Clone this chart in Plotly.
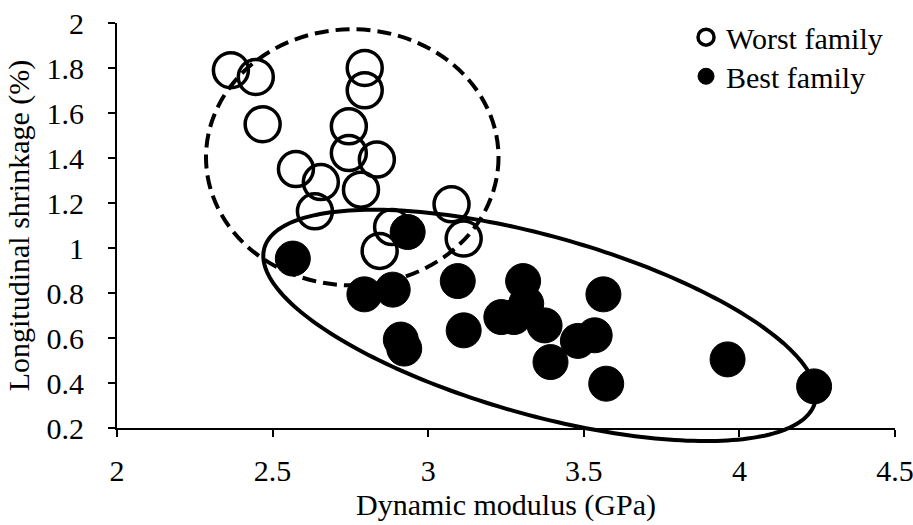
import numpy as np
import plotly.graph_objects as go

# ---- data ----
worst_x = [2.366, 2.446, 2.468, 2.796, 2.796, 2.745, 2.745, 2.835, 2.575, 2.655,
           2.784, 2.636, 3.075, 3.114, 2.884, 2.844]
worst_y = [1.790, 1.760, 1.550, 1.800, 1.701, 1.541, 1.422, 1.393, 1.351, 1.293,
           1.259, 1.163, 1.194, 1.042, 1.093, 0.987]

best_x = [2.565, 2.934, 2.795, 2.886, 3.095, 3.305, 3.563, 2.912, 2.923, 3.114,
          3.235, 3.275, 3.315, 3.374, 3.481, 3.535, 3.393, 3.572, 3.962, 4.240]
best_y = [0.953, 1.071, 0.794, 0.815, 0.853, 0.853, 0.794, 0.593, 0.553, 0.634,
          0.693, 0.693, 0.753, 0.656, 0.587, 0.612, 0.493, 0.397, 0.505, 0.385]

x_range = [2, 4.5]
y_range = [0.2, 2]
x_ticks = [2, 2.5, 3, 3.5, 4, 4.5]
x_tick_labels = ["2", "2.5", "3", "3.5", "4", "4.5"]
y_ticks = [0.2, 0.4, 0.6, 0.8, 1.0, 1.2, 1.4, 1.6, 1.8, 2.0]
y_tick_labels = ["0.2", "0.4", "0.6", "0.8", "1", "1.2", "1.4", "1.6", "1.8", "2"]

# ---- grouping ellipses (annotation shapes, in data units) ----
worst_ell_center = (2.756, 1.403)
worst_ell_radii = (0.470, 0.569)

best_ell_center = (3.358, 0.656)
best_ell_vec_a = (0.8845, -0.3436)
best_ell_vec_b = (-0.0778, -0.3822)

FONT = "Liberation Serif"
FS = 30

fig = go.Figure()

fig.add_trace(go.Scatter(
    x=worst_x, y=worst_y, mode="markers", name="Worst family",
    marker=dict(symbol="circle-open", size=35, color="black",
                line=dict(width=3.5, color="black")),
    cliponaxis=False, legend="legend",
))
fig.add_trace(go.Scatter(
    x=best_x, y=best_y, mode="markers", name="Best family",
    marker=dict(symbol="circle", size=35, color="black",
                line=dict(width=1, color="black")),
    cliponaxis=False, legend="legend2",
))

# dashed ellipse
cx, cy = worst_ell_center
rx, ry = worst_ell_radii
fig.add_shape(type="circle", xref="x", yref="y",
              x0=cx - rx, x1=cx + rx, y0=cy - ry, y1=cy + ry,
              line=dict(color="black", width=4, dash="14px,7px"),
              layer="above")

# solid rotated ellipse (placed in paper units so it is not clipped at the axis)
t = np.linspace(0, 2 * np.pi, 240)
ex = best_ell_center[0] + best_ell_vec_a[0] * np.cos(t) + best_ell_vec_b[0] * np.sin(t)
ey = best_ell_center[1] + best_ell_vec_a[1] * np.cos(t) + best_ell_vec_b[1] * np.sin(t)
px = (ex - x_range[0]) / (x_range[1] - x_range[0])
py = (ey - y_range[0]) / (y_range[1] - y_range[0])
path = "M " + " L ".join(f"{a:.5f},{b:.5f}" for a, b in zip(px, py)) + " Z"
fig.add_shape(type="path", xref="paper", yref="paper", path=path,
              line=dict(color="black", width=4), layer="above")

leg_common = dict(xref="paper", yref="paper", xanchor="left", yanchor="middle",
                  font=dict(family=FONT, size=FS, color="black"),
                  bgcolor="rgba(0,0,0,0)", itemwidth=30)

fig.update_layout(
    width=913, height=525,
    margin=dict(l=117, r=18, t=23, b=97, autoexpand=False),
    plot_bgcolor="white", paper_bgcolor="white",
    font=dict(family=FONT, size=FS, color="black"),
    showlegend=True,
    legend=dict(x=0.7314, y=0.965, **leg_common),
    legend2=dict(x=0.7314, y=0.8685, **leg_common),
    xaxis=dict(range=x_range, tickvals=x_ticks, ticktext=x_tick_labels,
               showgrid=False, zeroline=False, showline=True,
               linecolor="black", linewidth=2, ticks="outside", ticklen=7,
               tickwidth=2, tickcolor="black", ticklabelstandoff=8,
               ticklabeloverflow="allow",
               title=dict(text="Dynamic modulus (GPa)", standoff=8,
                          font=dict(family=FONT, size=FS))),
    yaxis=dict(range=y_range, tickvals=y_ticks, ticktext=y_tick_labels,
               showgrid=False, zeroline=False, showline=True,
               linecolor="black", linewidth=2, ticks="outside", ticklen=7,
               tickwidth=2, tickcolor="black", ticklabelstandoff=18,
               ticklabeloverflow="allow",
               title=dict(text="Longitudinal shrinkage (%)", standoff=8,
                          font=dict(family=FONT, size=FS))),
)

fig.write_html("out.html")
